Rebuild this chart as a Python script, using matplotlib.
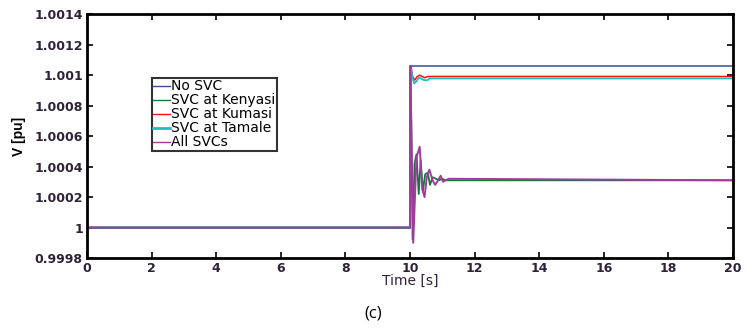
import numpy as np
import matplotlib.pyplot as plt

# voltage response
t_nosvc = [0, 10, 10, 20]
v_nosvc = [1.0, 1.0, 1.00106, 1.00106]

t_ken = [0, 10, 10.02, 10.08, 10.14, 10.2, 10.27, 10.33, 10.4, 10.47, 10.55, 10.62, 10.7, 10.8, 10.9, 11.0, 11.1, 20]
v_ken = [1.0, 1.0, 1.00104, 0.99992, 1.00042, 1.00048, 1.00022, 1.00044, 1.00024, 1.00035, 1.00036, 1.00028, 1.00033, 1.00032, 1.00031, 1.00032, 1.00031, 1.00031]

t_kum = [0, 10, 10.03, 10.08, 10.15, 10.22, 10.3, 10.38, 10.46, 10.55, 20]
v_kum = [1.0, 1.0, 1.00106, 1.00099, 1.000967, 1.00099, 1.001, 1.00099, 1.000983, 1.000991, 1.000991]

t_tam = [0, 10, 10.03, 10.08, 10.13, 10.2, 10.28, 10.36, 10.44, 10.55, 10.6, 20]
v_tam = [1.0, 1.0, 1.00104, 1.00098, 1.000945, 1.00096, 1.000985, 1.000975, 1.000967, 1.000967, 1.000978, 1.000978]

t_all = [0, 10, 10.01, 10.1, 10.2, 10.3, 10.38, 10.45, 10.52, 10.6, 10.7, 10.78, 10.87, 10.95, 11.02, 11.1, 11.2, 20]
v_all = [1.0, 1.0, 1.00106, 0.9999, 1.00046, 1.00053, 1.00025, 1.0002, 1.00033, 1.00038, 1.00031, 1.00028, 1.00031, 1.00034, 1.0003, 1.00031, 1.00032, 1.00031]

labels = ['No SVC', 'SVC at Kenyasi', 'SVC at Kumasi', 'SVC at Tamale', 'All SVCs']
colors = ['#34509a', '#127a3c', '#ff1010', '#1cc0c0', '#a03c9c']
yticks = [0.9998, 1.0, 1.0002, 1.0004, 1.0006, 1.0008, 1.001, 1.0012, 1.0014]
ytick_labels = ['0.9998', '1', '1.0002', '1.0004', '1.0006', '1.0008', '1.001', '1.0012', '1.0014']

fig = plt.figure(figsize=(7.46, 3.36), dpi=100)
ax = fig.add_axes([0.1166, 0.232, 0.866, 0.726])

ax.plot(t_nosvc, v_nosvc, color=colors[0], lw=1.1, label=labels[0])
ax.plot(t_ken, v_ken, color=colors[1], lw=1.3, label=labels[1])
ax.plot(t_kum, v_kum, color=colors[2], lw=1.1, label=labels[2])
ax.plot(t_tam, v_tam, color=colors[3], lw=1.3, label=labels[3])
ax.plot(t_all, v_all, color=colors[4], lw=1.4, label=labels[4])

ax.set_xlim(0, 20)
ax.set_ylim(0.9998, 1.0014)
ax.set_xticks(np.arange(0, 21, 2))
ax.set_yticks(yticks)
ax.set_yticklabels(ytick_labels)
ax.tick_params(direction='in', top=True, right=True, length=4, width=1.2, labelsize=9, pad=3,
               labelcolor='#2e2238')
for lab in ax.get_xticklabels() + ax.get_yticklabels():
    lab.set_fontweight('bold')
for s in ax.spines.values():
    s.set_linewidth(2)

ax.set_xlabel('Time [s]', fontsize=10, labelpad=-1, color='#2e2238')
ax.set_ylabel('V [pu]', fontsize=10, fontweight='bold', family='Liberation Sans')
ax.yaxis.set_label_coords(-0.094, 0.5)

leg = ax.legend(loc='upper left', bbox_to_anchor=(0.1006, 0.7377), fontsize=10, frameon=True,
                fancybox=False, edgecolor='black', handlelength=1.2, handletextpad=0.1,
                labelspacing=0.0, borderpad=0.1, borderaxespad=0)
leg.get_frame().set_linewidth(1.5)
for ln in leg.get_lines():
    ln.set_linewidth(1.0)
leg.get_lines()[3].set_linewidth(2.0)

fig.text(0.5, 0.068, '(c)', ha='center', va='center', fontsize=12, family=['Open Sans', 'DejaVu Sans'])

fig.savefig('out.png', dpi=100)
